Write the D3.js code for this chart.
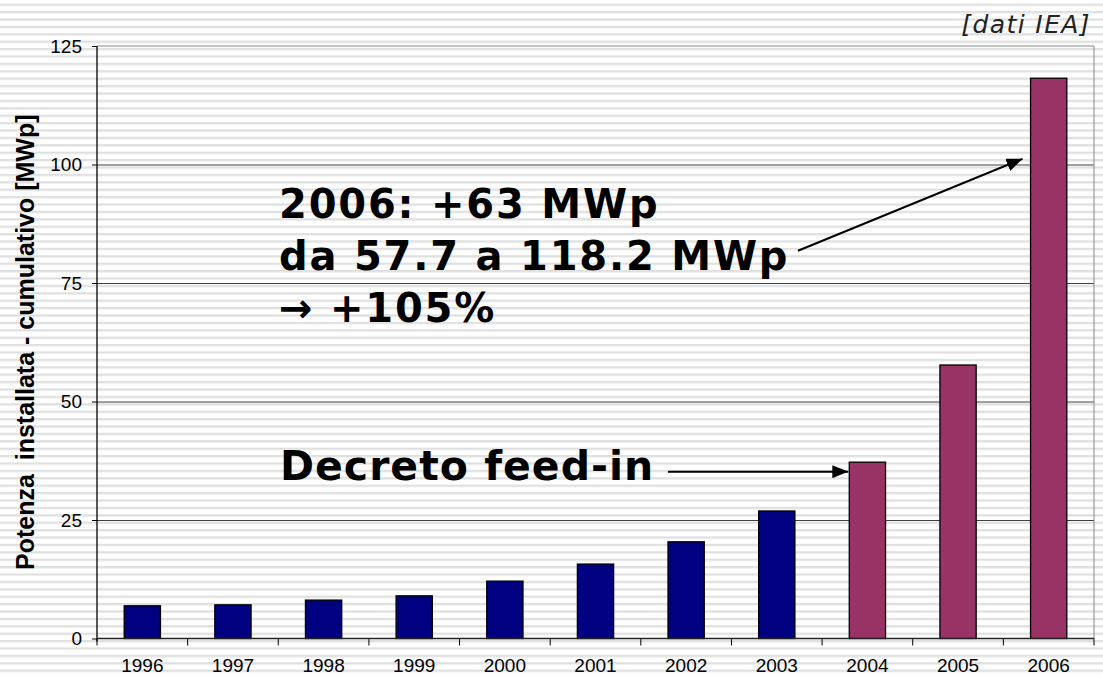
<!DOCTYPE html>
<html lang="it">
<head>
  <meta charset="UTF-8">
  <title>Potenza installata</title>
  <style>
    body { margin: 0; background: #ffffff; }
    .axis text {
      font-family: "Liberation Sans", Arial, sans-serif;
      font-size: 19px;
      fill: #000000;
    }
    .axis path { display: none; }
    .axis line { stroke: #000000; }
    .grid line { stroke: #404040; stroke-width: 1; }
    .grid path { display: none; }
    .note {
      font-family: "DejaVu Sans", Verdana, sans-serif;
      font-weight: bold;
      fill: #000000;
    }
  </style>
</head>
<body>
<svg id="graph" width="1103" height="677"></svg>

<script src="https://cdn.jsdelivr.net/npm/d3@7"></script>
<script>
  "use strict";

  // dati
  var years = ["1996","1997","1998","1999","2000","2001","2002","2003","2004","2005","2006"];
  var power = [6.9, 7.1, 8.1, 9.0, 12.1, 15.7, 20.4, 26.9, 37.2, 57.7, 118.2];
  var yTicks = [0, 25, 50, 75, 100, 125];
  var gridValues = [25, 50, 75, 100];
  var feedInYear = "2004";
  var notes = ["2006: +63 MWp", "da 57.7 a 118.2 MWp", "\u2192 +105%"];

  var W = 1103, H = 677;
  var plotLeft = 97, plotRight = 1094, plotTop = 46, plotBottom = 638.5;

  var svg = d3.select("#graph");
  var defs = svg.append("defs");

  // sfondo a righe
  var pat = defs.append("pattern")
    .attr("id", "stripes")
    .attr("patternUnits", "userSpaceOnUse")
    .attr("width", 10)
    .attr("height", 7.4)
    .attr("y", 3.6);
  pat.append("rect").attr("width", 10).attr("height", 7.4).attr("fill", "#ffffff");
  pat.append("rect").attr("width", 10).attr("height", 2.3).attr("fill", "#e0e0e0");

  svg.append("rect")
    .attr("width", W).attr("height", H)
    .attr("fill", "url(#stripes)");

  defs.append("marker")
    .attr("id", "head")
    .attr("markerUnits", "userSpaceOnUse")
    .attr("viewBox", "0 0 16 13")
    .attr("markerWidth", 16).attr("markerHeight", 13)
    .attr("refX", 16).attr("refY", 6.5)
    .attr("orient", "auto")
    .append("path")
    .attr("d", "M0,0 L16,6.5 L0,13 Z")
    .attr("fill", "#000000");

  var x = d3.scaleBand()
    .domain(years)
    .range([plotLeft, plotRight])
    .paddingInner(0.6)
    .paddingOuter(0.3);

  var y = d3.scaleLinear()
    .domain([0, 125])
    .range([plotBottom, plotTop]);

  // griglia
  svg.append("g")
    .attr("class", "grid")
    .attr("transform", "translate(" + plotLeft + ",0)")
    .call(d3.axisLeft(y).tickValues(gridValues).tickSize(-(plotRight - plotLeft)).tickFormat(""));

  // bordo area del grafico
  svg.append("line")
    .attr("x1", plotLeft).attr("x2", plotRight)
    .attr("y1", y(125)).attr("y2", y(125))
    .attr("stroke", "#888888");
  svg.append("line")
    .attr("x1", plotRight).attr("x2", plotRight)
    .attr("y1", y(125)).attr("y2", y(0))
    .attr("stroke", "#888888");

  // barre
  svg.selectAll("rect.bar")
    .data(years)
    .enter()
    .append("rect")
    .attr("class", "bar")
    .attr("x", function(d){ return x(d); })
    .attr("y", function(d,i){ return y(power[i]); })
    .attr("width", x.bandwidth())
    .attr("height", function(d,i){ return y(0) - y(power[i]); })
    .attr("fill", function(d){ return d >= feedInYear ? "#993366" : "#000080"; })
    .attr("stroke", "#000000")
    .attr("stroke-width", 1.3);

  // asse y
  svg.append("g")
    .attr("class", "axis")
    .attr("transform", "translate(" + plotLeft + ",0)")
    .call(d3.axisLeft(y).tickValues(yTicks).tickSize(5).tickPadding(10));

  svg.append("line")
    .attr("x1", plotLeft).attr("x2", plotLeft)
    .attr("y1", y(125)).attr("y2", y(0) + 3)
    .attr("stroke", "#000000").attr("stroke-width", 1.3);

  // asse x
  var xAxis = svg.append("g")
    .attr("class", "axis")
    .attr("transform", "translate(0," + y(0) + ")")
    .call(d3.axisBottom(x).tickSize(0).tickPadding(20));

  xAxis.selectAll(".tick line").remove();
  xAxis.selectAll("line.sep")
    .data(d3.range(years.length + 1))
    .enter()
    .append("line")
    .attr("class", "sep")
    .attr("x1", function(i){ return plotLeft + i * x.step(); })
    .attr("x2", function(i){ return plotLeft + i * x.step(); })
    .attr("y1", 0).attr("y2", 7)
    .attr("stroke", "#333333");

  svg.append("line")
    .attr("x1", plotLeft).attr("x2", plotRight)
    .attr("y1", y(0)).attr("y2", y(0))
    .attr("stroke", "#222222").attr("stroke-width", 1.6);

  // titolo asse y
  svg.append("text")
    .attr("transform", "translate(33.5," + (plotTop + plotBottom) / 2 + ") rotate(-90)")
    .attr("text-anchor", "middle")
    .style("white-space", "pre")
    .style("font-family", "'Liberation Sans', Arial, sans-serif")
    .style("font-weight", "bold")
    .style("font-size", "25px")
    .text("Potenza  installata - cumulativo [MWp]");

  // fonte
  svg.append("text")
    .attr("x", 1091).attr("y", 33)
    .attr("text-anchor", "end")
    .style("font-family", "'DejaVu Sans', Verdana, sans-serif")
    .style("font-style", "italic")
    .style("font-size", "25px")
    .style("letter-spacing", "1.4px")
    .attr("fill", "#222222")
    .text("[dati IEA]");

  // annotazioni
  svg.selectAll("text.big")
    .data(notes)
    .enter()
    .append("text")
    .attr("class", "note big")
    .attr("x", 279)
    .attr("y", function(d,i){ return 218 + i * 52; })
    .style("font-size", "40px")
    .style("letter-spacing", "1.8px")
    .text(function(d){ return d; });

  svg.append("text")
    .attr("class", "note")
    .attr("x", 280).attr("y", 480)
    .style("font-size", "41px")
    .style("letter-spacing", "1px")
    .text("Decreto feed-in");

  // frecce
  svg.append("line")
    .attr("x1", 668).attr("y1", y(35.2))
    .attr("x2", x(feedInYear) - 1).attr("y2", y(35.2))
    .attr("stroke", "#000000").attr("stroke-width", 2)
    .attr("marker-end", "url(#head)");

  svg.append("line")
    .attr("x1", 798).attr("y1", y(81.8))
    .attr("x2", x("2006") - 8).attr("y2", y(101.2))
    .attr("stroke", "#000000").attr("stroke-width", 2)
    .attr("marker-end", "url(#head)");
</script>
</body>
</html>
